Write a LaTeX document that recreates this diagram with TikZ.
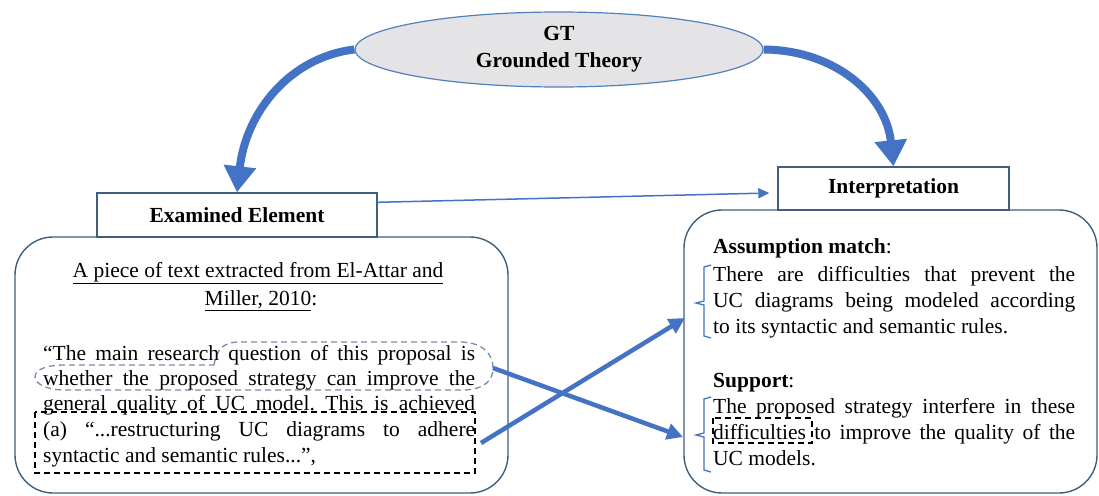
\documentclass[tikz,border=0pt]{standalone}
\usepackage{fontspec}
\setmainfont{Liberation Serif}
\usetikzlibrary{arrows.meta,shapes.geometric}
\definecolor{arrowblue}{HTML}{4472C4}
\definecolor{boxline}{HTML}{3F5F7F}
\definecolor{ellfill}{HTML}{E4E4E6}
\definecolor{ellline}{HTML}{4F81BD}
\definecolor{dashblue}{HTML}{7A8CA8}
\frenchspacing
\begin{document}
\begin{tikzpicture}[x=1pt,y=-1pt,
  bodytext/.style={inner sep=0pt, anchor=base west, font=\fontsize{21.5}{25.5}\selectfont},
  headbox/.style={draw=boxline, line width=1.4pt, fill=white, inner sep=0pt,
    font=\fontsize{21.5}{25.5}\selectfont\bfseries},
  roundbox/.style={draw=boxline, line width=1.4pt, fill=white, rounded corners=38pt, inner sep=0pt},
  bigarrow/.style={draw=arrowblue, line width=8pt, -{Triangle[length=26pt,width=31pt]}},
  medarrow/.style={draw=arrowblue, line width=4.5pt, -{Triangle[length=16pt,width=16pt]}},
  thinarrow/.style={draw=arrowblue, line width=1.5pt, -{Triangle[length=11pt,width=10pt]}},
  brk/.style={draw=arrowblue, line width=1.3pt},
  blackdash/.style={draw=black, line width=1.1pt, dash pattern=on 6pt off 4pt},
  bluedash/.style={draw=dashblue, line width=1.3pt, dash pattern=on 6pt off 4pt}]
\useasboundingbox (0,0) rectangle (1099,495);

% boxes
\node[roundbox, minimum width=493pt, minimum height=256pt] (leftbox) at (261.5,365) {};
\node[roundbox, minimum width=413pt, minimum height=283pt] (rightbox) at (890.5,351.5) {};
\node[headbox, minimum width=280pt, minimum height=44pt] (exam) at (237,215) {Examined Element};
\node[headbox, minimum width=231pt, minimum height=43pt] (interp) at (893.5,188.5) {Interpretation};

% GT ellipse
\node[ellipse, draw=ellline, fill=ellfill, line width=1.2pt, minimum width=408pt,
  minimum height=75pt, inner sep=0pt, align=center,
  font=\fontsize{21.5}{27}\selectfont\bfseries] (gt) at (559,49.5) {GT\\Grounded Theory};

% big curved arrows
\draw[bigarrow] (gt.west) .. controls (290,57) and (246,112) .. (exam.north);
\draw[bigarrow] (gt.east) .. controls (835,50) and (886,95) .. (interp.north);

% thin arrow
\draw[thinarrow] ([yshift=-10pt]exam.north east) -- ([xshift=-8pt,yshift=-4.5pt]interp.west);

% dashed marks in left text
\draw[bluedash] (214,365) .. controls (217,350) and (222,342) .. (240,342) -- (462,342)
  .. controls (485,343) and (493,356) .. (493,368) .. controls (493,380) and (485,389) .. (465,390)
  -- (65,390) .. controls (45,390) and (35,383) .. (35,377) .. controls (35,370) and (45,365) .. (65,365) -- cycle;
\draw[blackdash] (35,412) rectangle (475,473);

% left text
\node[bodytext, anchor=base] (src1) at (258,277) {\underline{A piece of text extracted from El-Attar and}};
\node[bodytext, anchor=base] (src2) at (261,305) {\underline{Miller, 2010}:};
\node[bodytext] (p1) at (43,360) {\makebox[432pt][s]{“The main research question of this proposal is}};
\node[bodytext] (p2) at (43,385) {\makebox[432pt][s]{whether the proposed strategy can improve the}};
\node[bodytext] (p3) at (43,410) {\makebox[432pt][s]{general quality of UC model. This is achieved}};
\node[bodytext] (p4) at (43,436) {\makebox[432pt][s]{(a) “...restructuring UC diagrams to adhere}};
\node[bodytext] (p5) at (43,462) {syntactic and semantic rules...”,};

% right text
\node[bodytext] (am) at (713,253) {\textbf{Assumption match}:};
\node[bodytext] (r1) at (713,281) {\makebox[362pt][s]{There are difficulties that prevent the}};
\node[bodytext] (r2) at (713,307) {\makebox[362pt][s]{UC diagrams being modeled according}};
\node[bodytext] (r3) at (713,333) {to its syntactic and semantic rules.};
\node[bodytext] (sp) at (713,387) {\textbf{Support}:};
\node[bodytext] (r4) at (713,413) {\makebox[362pt][s]{The proposed strategy interfere in these}};
\node[bodytext] (r5) at (713,439) {\makebox[362pt][s]{difficulties to improve the quality of the}};
\node[bodytext] (r6) at (713,465) {UC models.};

% brackets
\draw[brk] (711,265) -- (704,267) -- (704,301) -- (696,303) -- (704,305) -- (704,336) -- (711,338);
\draw[brk] (711,397) -- (704,399) -- (704,433) -- (696,435) -- (704,437) -- (704,470) -- (711,472);
\draw[blackdash] (713,418) rectangle (812,443);

% crossing arrows
\coordinate (ellR) at (493,368);
\coordinate (rectR) at (481,443);
\coordinate (tipS) at (683,437);
\coordinate (tipA) at (685,318);
\draw[medarrow] (ellR) -- (tipS);
\draw[medarrow] (rectR) -- (tipA);
\end{tikzpicture}
\end{document}
